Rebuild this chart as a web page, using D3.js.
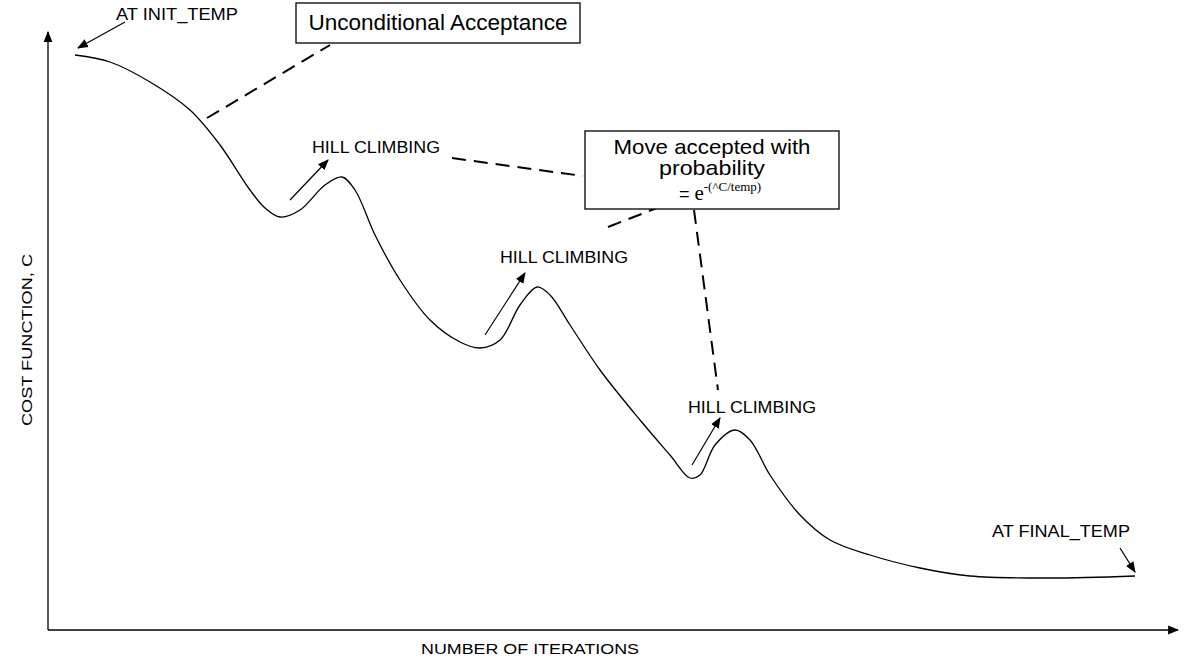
<!DOCTYPE html><html><head><meta charset="utf-8">
<script src="https://cdn.jsdelivr.net/npm/d3@7"></script>
<style>body{margin:0;background:#fff}svg{font-family:"Liberation Sans",Arial,sans-serif}</style></head><body>
<script>
// Cost curve: iteration (x) vs cost (y), in plot units
const iterations=[27,62,102,142,172,202,217,232,252,277,294,307,327,352,382,412,432,452,472,489,502,522,552,592,622,642,652,667,687,702,722,752,782,822,872,922,1002,1087];
const cost=[575,568,548,520,485,440,422,413,420,445,453,440,395,350,310,288,282,290,325,343,335,305,260,210,175,152,155,185,200,190,155,115,90,75,62,54,52,54];
const labels=[
 {t:"AT INIT_TEMP",x:68,y:610,w:122},{t:"HILL CLIMBING",x:264,y:477,w:128},{t:"HILL CLIMBING",x:452,y:367,w:128},
 {t:"HILL CLIMBING",x:640,y:217,w:128},{t:"AT FINAL_TEMP",x:944,y:93,w:138}];
const arrows=[[77,608,30,582],[242,430,280,470],[437,295,477,357],[644,165,672,212],[1072,82,1087,58]];
const dashes=[[159,512,282,585],[404,472,535,454],[560,403,614,424],[646,420,670,240]];
const W=1198,H=668;
const x=d3.scaleLinear().domain([0,1130]).range([48,1178]);
const y=d3.scaleLinear().domain([0,600]).range([630,30]);
const svg=d3.select("body").append("svg").attr("width",W).attr("height",H);
svg.append("defs").append("marker").attr("id","ah").attr("viewBox","0 0 10 10").attr("refX",9).attr("refY",5)
 .attr("markerWidth",11).attr("markerHeight",11).attr("markerUnits","userSpaceOnUse").attr("orient","auto")
 .append("path").attr("d","M0,1L10,5L0,9Z").attr("fill","#000");
svg.append("line").attr("x1",x(0)).attr("y1",y(0)).attr("x2",x(0)).attr("y2",y(598)).attr("stroke","#000").attr("stroke-width",1.3).attr("marker-end","url(#ah)");
svg.append("line").attr("x1",x(0)).attr("y1",y(0)).attr("x2",x(1130)).attr("y2",y(0)).attr("stroke","#000").attr("stroke-width",1.3).attr("marker-end","url(#ah)");
svg.append("text").text("COST FUNCTION, C").attr("transform",`translate(32,${y(290)}) rotate(-90)`).attr("text-anchor","middle").attr("font-size",15).attr("textLength",172).attr("lengthAdjust","spacingAndGlyphs");
svg.append("text").text("NUMBER OF ITERATIONS").attr("x",x(482)).attr("y",654).attr("text-anchor","middle").attr("font-size",15).attr("textLength",218).attr("lengthAdjust","spacingAndGlyphs");
const pts=iterations.map((d,i)=>[x(d),y(cost[i])]);
svg.append("path").attr("d",d3.line().curve(d3.curveCatmullRom)(pts)).attr("fill","none").attr("stroke","#000").attr("stroke-width",1.3);
labels.forEach(l=>svg.append("text").text(l.t).attr("x",x(l.x)).attr("y",y(l.y)).attr("font-size",16).attr("textLength",l.w).attr("lengthAdjust","spacingAndGlyphs"));
arrows.forEach(a=>svg.append("line").attr("x1",x(a[0])).attr("y1",y(a[1])).attr("x2",x(a[2])).attr("y2",y(a[3])).attr("stroke","#000").attr("stroke-width",1.2).attr("marker-end","url(#ah)"));
dashes.forEach(a=>svg.append("line").attr("x1",x(a[0])).attr("y1",y(a[1])).attr("x2",x(a[2])).attr("y2",y(a[3])).attr("stroke","#000").attr("stroke-width",2).attr("stroke-dasharray","14,8"));
svg.append("rect").attr("x",296).attr("y",3).attr("width",284).attr("height",40).attr("fill","#fff").attr("stroke","#000").attr("stroke-width",1.3);
svg.append("text").text("Unconditional Acceptance").attr("x",438).attr("y",30).attr("text-anchor","middle").attr("font-size",22).attr("textLength",259).attr("lengthAdjust","spacingAndGlyphs");
svg.append("rect").attr("x",585).attr("y",131).attr("width",254).attr("height",78).attr("fill","#fff").attr("stroke","#000").attr("stroke-width",1.3);
svg.append("text").text("Move accepted with").attr("x",712).attr("y",154).attr("text-anchor","middle").attr("font-size",21).attr("textLength",197).attr("lengthAdjust","spacingAndGlyphs");
svg.append("text").text("probability").attr("x",712).attr("y",175).attr("text-anchor","middle").attr("font-size",21).attr("textLength",106).attr("lengthAdjust","spacingAndGlyphs");
const t=svg.append("text").attr("x",720).attr("y",200).attr("text-anchor","middle");
t.append("tspan").text("= ").attr("font-size",18);
t.append("tspan").text("e").attr("font-size",21).attr("font-family","Liberation Serif,serif");
t.append("tspan").text("-(^C/temp)").attr("font-size",13).attr("dy",-9).attr("font-family","Liberation Serif,serif");
</script></body></html>
